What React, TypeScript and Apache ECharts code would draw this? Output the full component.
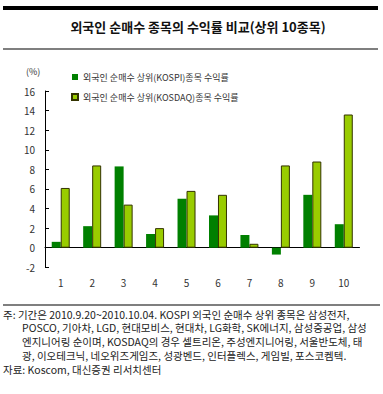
import React, { useEffect, useRef } from "react";
import * as echarts from "echarts";

const categories = ["1", "2", "3", "4", "5", "6", "7", "8", "9", "10"];
const kospiValues = [0.6, 2.2, 8.3, 1.4, 5.0, 3.3, 1.3, -0.7, 5.4, 2.4];
const kosdaqValues = [6.1, 8.4, 4.4, 2.0, 5.8, 5.4, 0.4, 8.4, 8.8, 13.6];
const seriesNames = [
  "외국인 순매수 상위(KOSPI)종목 수익률",
  "외국인 순매수 상위(KOSDAQ)종목 수익률",
];
const titleText = "외국인 순매수 종목의 수익률 비교(상위 10종목)";
const unitText = "(%)";
const noteLines = [
  "주: 기간은 2010.9.20~2010.10.04. KOSPI 외국인 순매수 상위 종목은 삼성전자,",
  "POSCO, 기아차, LGD, 현대모비스, 현대차, LG화학, SK에너지, 삼성중공업, 삼성",
  "엔지니어링 순이며, KOSDAQ의 경우 셀트리온, 주성엔지니어링, 서울반도체, 태",
  "광, 이오테크닉, 네오위즈게임즈, 성광벤드, 인터플렉스, 게임빌, 포스코켐텍.",
];
const sourceText = "자료: Koscom, 대신증권 리서치센터";

const FONT = "'Noto Sans CJK KR', 'Noto Sans', sans-serif";

export default function App() {
  const ref = useRef<HTMLDivElement>(null);
  useEffect(() => {
    document.body.style.margin = "0";
    const chart = echarts.init(ref.current!, null, { renderer: "svg" });
    const noteGraphics: any[] = noteLines.map((t, i) => ({
      type: "text",
      x: i === 0 ? 3 : 22,
      y: 314 + i * 13.7,
      style: {
        text: t,
        fontSize: 10.5,
        fontFamily: FONT,
        fill: "#222",
        verticalAlign: "middle",
      },
    }));
    chart.setOption({
      animation: false,
      backgroundColor: "#fff",
      textStyle: { fontFamily: FONT },
      grid: { left: 45, right: 23.5, top: 91, bottom: 126.7, containLabel: false },
      legend: {
        orient: "vertical",
        left: 66,
        top: 67,
        itemWidth: 6,
        itemHeight: 6,
        itemGap: 10,
        icon: "rect",
        textStyle: { fontSize: 9, color: "#333", fontFamily: FONT, lineHeight: 10 },
        data: seriesNames,
      },
      xAxis: {
        type: "category",
        data: categories,
        axisLine: { onZero: true, lineStyle: { color: "#000", width: 1 } },
        axisTick: { inside: true, length: 4, lineStyle: { color: "#000" } },
        axisLabel: { margin: 10, fontSize: 10, color: "#333", fontFamily: FONT },
        splitLine: { show: false },
      },
      yAxis: {
        type: "value",
        min: -2,
        max: 16,
        interval: 2,
        axisLine: { show: true, lineStyle: { color: "#000", width: 1 } },
        axisTick: { show: true, inside: true, length: 4, lineStyle: { color: "#000" } },
        axisLabel: { margin: 10, fontSize: 10, color: "#333", fontFamily: FONT },
        splitLine: { show: false },
      },
      series: [
        {
          name: seriesNames[0],
          type: "bar",
          data: kospiValues,
          barWidth: 9,
          barGap: "0%",
          itemStyle: { color: "#008000" },
        },
        {
          name: seriesNames[1],
          type: "bar",
          data: kosdaqValues,
          barWidth: 9,
          barGap: "0%",
          itemStyle: { color: "#99cc00", borderColor: "#333300", borderWidth: 1 },
        },
      ],
      graphic: [
        { type: "rect", shape: { x: 3, y: 6, width: 375, height: 4 }, style: { fill: "#000" } },
        { type: "rect", shape: { x: 3, y: 48.5, width: 375, height: 1 }, style: { fill: "#000" } },
        { type: "rect", shape: { x: 3, y: 304.5, width: 377, height: 1 }, style: { fill: "#000" } },
        {
          type: "text",
          x: 198,
          y: 26,
          style: {
            text: titleText,
            fontSize: 13,
            fontWeight: "bold",
            fontFamily: FONT,
            fill: "#111",
            textAlign: "center",
            verticalAlign: "middle",
          },
        },
        {
          type: "text",
          x: 26,
          y: 71,
          style: { text: unitText, fontSize: 9, fontFamily: FONT, fill: "#333", verticalAlign: "middle" },
        },
        ...noteGraphics,
        {
          type: "text",
          x: 3,
          y: 369,
          style: { text: sourceText, fontSize: 10.5, fontFamily: FONT, fill: "#222", verticalAlign: "middle" },
        },
      ],
    });
    return () => chart.dispose();
  }, []);
  return <div ref={ref} style={{ width: 383, height: 394 }} />;
}
